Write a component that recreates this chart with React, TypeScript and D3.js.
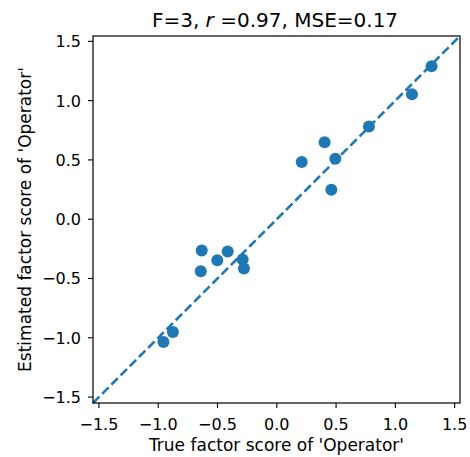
import React from "react";
import * as d3 from "d3";

const trueScores = [1.305, 1.14, 0.777, 0.403, 0.21, 0.494, 0.46, -0.633, -0.641, -0.502, -0.414, -0.288, -0.277, -0.876, -0.956];
const estScores = [1.289, 1.053, 0.781, 0.648, 0.483, 0.51, 0.249, -0.264, -0.439, -0.347, -0.272, -0.34, -0.416, -0.952, -1.036];
const tickValues = [-1.5, -1.0, -0.5, 0.0, 0.5, 1.0, 1.5];
const domain = [-1.55, 1.545];

const W = 470, H = 457;
const L = 93, R = 460, T = 36, B = 403;
const color = "#1f77b4";
const font = "DejaVu Sans";

const fmt = (v: number) => (v < 0 ? "\u2212" : "") + Math.abs(v).toFixed(1);

export default function App() {
  const x = d3.scaleLinear().domain(domain).range([L, R]);
  const y = d3.scaleLinear().domain(domain).range([B, T]);
  return (
    <svg width={W} height={H} style={{ position: "absolute", left: 0, top: 0, background: "#fff" }} fontFamily={font}>
      <line x1={x(domain[0])} y1={y(domain[0])} x2={x(domain[1])} y2={y(domain[1])}
        stroke={color} strokeWidth={2.6} strokeDasharray="9,4" />
      {trueScores.map((t, i) => (
        <circle key={i} cx={x(t)} cy={y(estScores[i])} r={6} fill={color} />
      ))}
      <rect x={L} y={T} width={R - L} height={B - T} fill="none" stroke="#000" strokeWidth={1.2} />
      {tickValues.map((v) => (
        <g key={"x" + v}>
          <line x1={x(v)} x2={x(v)} y1={B} y2={B + 5} stroke="#000" strokeWidth={1.1} />
          <text x={x(v)} y={B + 27} textAnchor="middle" fontSize={16}>{fmt(v)}</text>
        </g>
      ))}
      {tickValues.map((v) => (
        <g key={"y" + v}>
          <line x1={L - 5} x2={L} y1={y(v)} y2={y(v)} stroke="#000" strokeWidth={1.1} />
          <text x={L - 12} y={y(v) + 6} textAnchor="end" fontSize={16}>{fmt(v)}</text>
        </g>
      ))}
      <text x={(L + R) / 2} y={451} textAnchor="middle" fontSize={17}>True factor score of 'Operator'</text>
      <text transform={`translate(31,${(T + B) / 2}) rotate(-90)`} textAnchor="middle" fontSize={17}>Estimated factor score of 'Operator'</text>
      <text x={275} y={27} textAnchor="middle" fontSize={20}>
        F=3, <tspan fontStyle="italic">r</tspan> =0.97, MSE=0.17
      </text>
    </svg>
  );
}
